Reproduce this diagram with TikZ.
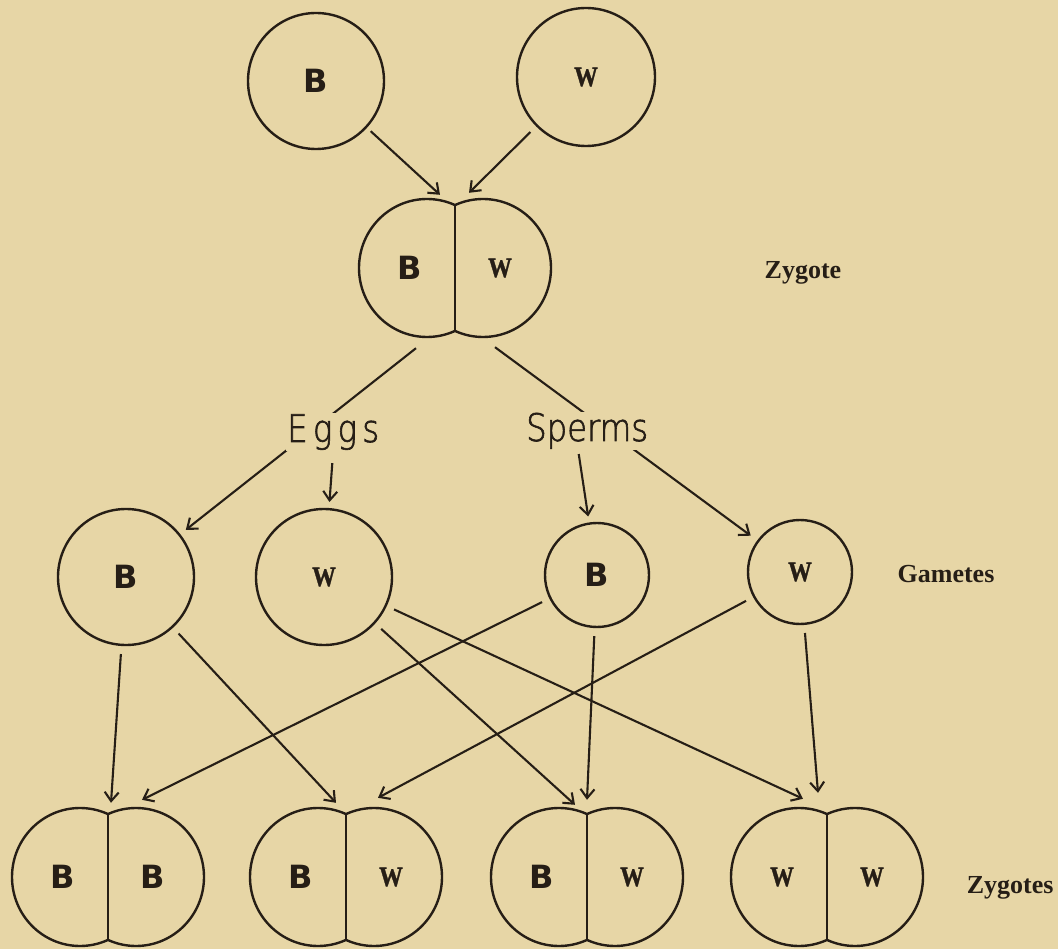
\documentclass[tikz,border=0pt]{standalone}
\usepackage{fontspec}
\usetikzlibrary{arrows.meta}
\newfontfamily\bsans{DejaVu Sans}
\newfontfamily\bserif{Liberation Serif}
\newfontfamily\wserif{Liberation Serif}[FakeStretch=0.85, FakeBold=1.2]
\newfontfamily\thinsans{DejaVu Sans ExtraLight}[FakeStretch=0.85, FakeBold=1.6]
\definecolor{paper}{RGB}{231,214,166}
\definecolor{ink}{RGB}{38,30,22}
\newcommand{\gB}{{\bsans\bfseries\fontsize{32}{32}\selectfont B}}
\newcommand{\gW}{{\wserif\bfseries\fontsize{28}{28}\selectfont W}}
\tikzset{
  cell/.style={draw=ink, line width=2.4pt},
  gamete/.style={cell, circle, inner sep=0pt, minimum size=#1},
  zygbox/.style={inner sep=0pt, minimum width=192pt, minimum height=138pt},
  arr/.style={draw=ink, line width=2.1pt, -{Straight Barb[length=9pt,width=14pt]}},
  lbl/.style={font=\bserif\bfseries\fontsize{26}{26}\selectfont, anchor=base},
  hand/.style={font=\thinsans\fontsize{38}{38}\selectfont, fill=paper, inner sep=1pt, anchor=base west}
}
\newcommand{\zygote}[4]{%
  \node[zygbox] (#1) at (#2) {};
  \begin{scope}
    \clip ([xshift=-110pt,yshift=80pt]#1.center) rectangle ([yshift=-80pt]#1.center);
    \draw[cell] ([xshift=-28pt]#1.center) ellipse [x radius=68pt, y radius=69pt];
  \end{scope}
  \begin{scope}
    \clip ([xshift=110pt,yshift=80pt]#1.center) rectangle ([yshift=-80pt]#1.center);
    \draw[cell] ([xshift=28pt]#1.center) ellipse [x radius=68pt, y radius=69pt];
  \end{scope}
  \draw[cell, line width=2pt] ([yshift=63pt]#1.center) -- ([yshift=-63pt]#1.center);
  \node (#1-l) at ([xshift=-45pt]#1.center) {#3};
  \node (#1-r) at ([xshift=45pt]#1.center) {#4};
}
\begin{document}
\begin{tikzpicture}[x=1pt, y=-1pt, text=ink]
  \fill[paper] (0,0) rectangle (1058,949);
  \useasboundingbox (0,0) rectangle (1058,949);
  % parents
  \node[gamete=136pt] (Bp) at (316,81) {\gB};
  \node[gamete=138pt] (Wp) at (586,77) {\gW};
  \zygote{zyg}{455,268}{\gB}{\gW}
  \node[lbl] (lzyg) at (803,279) {Zygote};
  % gametes
  \node[gamete=136pt] (Be) at (126,577) {\gB};
  \node[gamete=136pt] (We) at (324,577) {\gW};
  \node[gamete=104pt] (Bs) at (597,575) {\gB};
  \node[gamete=104pt] (Ws) at (800,572) {\gW};
  \node[lbl] (lgam) at (946,582) {Gametes};
  % offspring
  \zygote{z1}{108,877}{\gB}{\gB}
  \zygote{z2}{346,877}{\gB}{\gW}
  \zygote{z3}{587,877}{\gB}{\gW}
  \zygote{z4}{827,877}{\gW}{\gW}
  \node[lbl, anchor=base east] (lzygs) at (1057,893) {Zygotes};
  % fertilisation
  \draw[arr, shorten <=5pt] (Bp) -- ([xshift=-15pt,yshift=4pt]zyg.north);
  \draw[arr, shorten <=8pt] (Wp) -- ([xshift=14pt,yshift=6pt]zyg.north);
  % segregation
  \draw[arr, shorten >=7pt] ([xshift=-39pt,yshift=-11pt]zyg.south) -- (Be);
  \draw[arr, shorten >=8pt] ([xshift=40pt,yshift=-10pt]zyg.south) -- (Ws);
  \node[hand] (eggs) at (286,442) {\addfontfeature{LetterSpace=14}Eggs};
  \node[hand] (sperms) at (525,441) {Sperms};
  \draw[arr, shorten <=12pt, shorten >=6pt] (eggs.south) -- (We);
  \draw[arr, shorten <=4pt, shorten >=6pt] ([xshift=-9pt]sperms.south) -- (Bs);
  % recombination
  \draw[arr, shorten <=8pt] (Be) -- ([xshift=3pt,yshift=5pt]z1.north);
  \draw[arr, shorten <=8pt] (Bs) -- ([xshift=34pt,yshift=8pt]z1.north);
  \draw[arr, shorten <=8pt] (Be) -- ([xshift=-10pt,yshift=5pt]z2.north);
  \draw[arr, shorten <=8pt] (Ws) -- ([xshift=32pt,yshift=10pt]z2.north);
  \draw[arr, shorten <=8pt] (We) -- ([xshift=-12pt,yshift=3pt]z3.north);
  \draw[arr, shorten <=8pt] (Bs) -- ([yshift=8pt]z3.north);
  \draw[arr, shorten <=8pt] (We) -- ([xshift=-24pt,yshift=9pt]z4.north);
  \draw[arr, shorten <=8pt] (Ws) -- ([xshift=-9pt,yshift=15pt]z4.north);
\end{tikzpicture}
\end{document}
